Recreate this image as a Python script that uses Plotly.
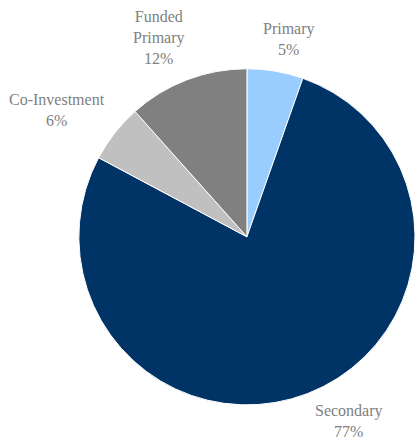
import plotly.graph_objects as go

labels = ["Primary", "Secondary", "Co-Investment", "Funded Primary"]
label_text = ["Primary", "Secondary", "Co-Investment", "Funded<br>Primary"]
values = [5.4, 77.4, 5.6, 11.6]
colors = ["#99CCFF", "#003366", "#C0C0C0", "#808080"]
percent_text = ["5%", "77%", "6%", "12%"]

# label placement (paper coordinates), layout only
label_pos = [(0.696, 0.912), (0.841, 0.045), (0.137, 0.751), (0.383, 0.914)]

fig = go.Figure(go.Pie(
    labels=labels,
    values=values,
    sort=False,
    direction="clockwise",
    rotation=0,
    marker=dict(colors=colors, line=dict(color="white", width=1)),
    textinfo="none",
    hoverinfo="label+percent",
    showlegend=False,
    domain=dict(x=[0.19, 1.0], y=[0.078, 0.848]),
))

for txt, pct, (px, py) in zip(label_text, percent_text, label_pos):
    fig.add_annotation(
        x=px, y=py, xref="paper", yref="paper",
        text=f"{txt}<br>{pct}",
        showarrow=False,
        xanchor="center", yanchor="middle",
        align="center",
        font=dict(family="Liberation Serif", size=16, color="#808080"),
    )

fig.update_layout(
    width=415, height=441,
    margin=dict(l=0, r=0, t=0, b=0),
    paper_bgcolor="white",
    plot_bgcolor="white",
)
fig.write_html("out.html")
